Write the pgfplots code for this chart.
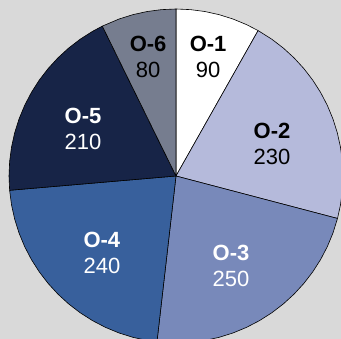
\documentclass[border=0pt]{standalone}
\usepackage{pgfplots}
\pgfplotsset{compat=1.18}
\usepgfplotslibrary{polar}
\usepackage{fontspec}
\setmainfont{Liberation Sans}

\definecolor{bgc}{HTML}{D9D9D9}
\definecolor{c1}{HTML}{FFFFFF}
\definecolor{c2}{HTML}{B5BADB}
\definecolor{c3}{HTML}{7889BA}
\definecolor{c4}{HTML}{38609C}
\definecolor{c5}{HTML}{172447}
\definecolor{c6}{HTML}{767D8F}

\begin{document}
\begin{tikzpicture}
\useasboundingbox (0,0) rectangle (341pt,339pt);
\fill[bgc] (0,0) rectangle (341pt,339pt);
\clip (0,0) rectangle (341pt,339pt);
% values: O-1 90, O-2 230, O-3 250, O-4 240, O-5 210, O-6 80 (total 1100)
% slice boundaries (deg, clockwise from top): 90, 60.55, -14.73, -96.55, -175.09, -243.82, -270
\begin{polaraxis}[
    at={(176pt,163pt)}, anchor=center,
    width=334pt, height=334pt, scale only axis,
    xmin=0, xmax=360, ymin=0, ymax=1,
    hide axis, clip=false,
    every axis plot/.append style={draw=black, line width=0.6pt, line join=round},
    font=\fontsize{22}{26}\selectfont,
]
\addplot[fill=c1, mark=none] coordinates {
    (0,0) (90,1) (85,1) (80,1) (75,1) (70,1) (65,1) (60.55,1)
} -- cycle;
\addplot[fill=c2, mark=none] coordinates {
    (0,0) (60.55,1) (55,1) (50,1) (45,1) (40,1) (35,1) (30,1) (25,1) (20,1)
    (15,1) (10,1) (5,1) (0,1) (-5,1) (-10,1) (-14.73,1)
} -- cycle;
\addplot[fill=c3, mark=none] coordinates {
    (0,0) (-14.73,1) (-20,1) (-25,1) (-30,1) (-35,1) (-40,1) (-45,1) (-50,1)
    (-55,1) (-60,1) (-65,1) (-70,1) (-75,1) (-80,1) (-85,1) (-90,1) (-96.55,1)
} -- cycle;
\addplot[fill=c4, mark=none] coordinates {
    (0,0) (-96.55,1) (-100,1) (-105,1) (-110,1) (-115,1) (-120,1) (-125,1)
    (-130,1) (-135,1) (-140,1) (-145,1) (-150,1) (-155,1) (-160,1) (-165,1)
    (-170,1) (-175.09,1)
} -- cycle;
\addplot[fill=c5, mark=none] coordinates {
    (0,0) (-175.09,1) (-180,1) (-185,1) (-190,1) (-195,1) (-200,1) (-205,1)
    (-210,1) (-215,1) (-220,1) (-225,1) (-230,1) (-235,1) (-240,1) (-243.82,1)
} -- cycle;
\addplot[fill=c6, mark=none] coordinates {
    (0,0) (-243.82,1) (-250,1) (-255,1) (-260,1) (-265,1) (-270,1)
} -- cycle;

\node[align=center, inner sep=0pt, text=black] at (axis cs:74.9,0.738) {\textbf{O-1}\\90};
\node[align=center, inner sep=0pt, text=black] at (axis cs:18.4,0.606) {\textbf{O-2}\\230};
\node[align=center, inner sep=0pt, text=white] at (axis cs:-58.6,0.632) {\textbf{O-3}\\250};
\node[align=center, inner sep=0pt, text=white] at (axis cs:-133.9,0.64) {\textbf{O-4}\\240};
\node[align=center, inner sep=0pt, text=white] at (axis cs:153.2,0.624) {\textbf{O-5}\\210};
\node[align=center, inner sep=0pt, text=black] at (axis cs:103.2,0.732) {\textbf{O-6}\\80};
\end{polaraxis}
\end{tikzpicture}
\end{document}
